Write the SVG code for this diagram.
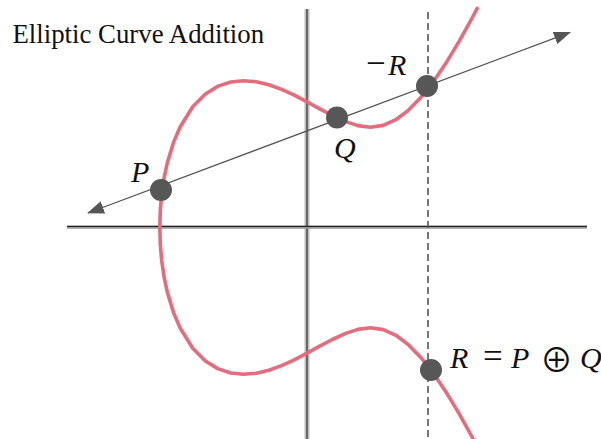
<svg xmlns="http://www.w3.org/2000/svg" width="601" height="439" viewBox="0 0 601 439">
<defs>
<style>
.title{font-family:"Liberation Serif","Times New Roman",serif;font-size:26.8px;fill:#111}
.math{font-family:"Liberation Serif","DejaVu Serif",serif;font-style:italic;font-size:30px;fill:#111}
.op{font-family:"Liberation Serif","DejaVu Serif",serif;font-size:35px;fill:#111}
.oplus{font-family:"Noto Sans CJK JP","DejaVu Sans",sans-serif;font-size:33px;fill:#111}
.dot{fill:#575757}
.curve{fill:none;stroke:#e46c7c;stroke-width:3.6;stroke-linejoin:round;stroke-linecap:round}
.secant{stroke:#555;stroke-width:1.3;fill:none}
</style>
<filter id="soft" x="-5%" y="-5%" width="110%" height="110%"><feGaussianBlur stdDeviation="0.6"/></filter>
<marker id="arr" viewBox="0 0 17 13" markerWidth="17" markerHeight="13" refX="16" refY="6.5" orient="auto-start-reverse" markerUnits="userSpaceOnUse">
<path d="M0,0 L17,6.5 L0,13 z" fill="#555"/>
</marker>
</defs>
<rect width="601" height="439" fill="#fff"/>
<text class="title" x="12.5" y="43">Elliptic Curve Addition</text>
<g id="axes">
<line x1="307" y1="9" x2="307" y2="439" stroke="#bdbdbd" stroke-width="5"/>
<line x1="307" y1="9" x2="307" y2="439" stroke="#6a6a6a" stroke-width="2"/>
<line x1="67" y1="227.2" x2="587" y2="227.2" stroke="#9a9a9a" stroke-width="3"/>
<line x1="67" y1="226.4" x2="587" y2="226.4" stroke="#222" stroke-width="1.4"/>
<line x1="428" y1="12" x2="428" y2="439" stroke="#555" stroke-width="1.6" stroke-dasharray="7 4"/>
</g>
<g id="curve" filter="url(#soft)">
<polyline class="curve" points="477.2,446.6 472.1,437.0 459.4,414.1 446.7,393.1 434,374.3 421.3,358.0 408.6,344.9 395.9,335.3 383.2,329.6 370.5,327.8 357.8,329.4 345.1,333.6 332.4,339.5 319.7,346.2 307,353.2 294.3,359.8 281.6,365.6 268.9,370.2 256.2,373.2 243.5,374.3 230.8,373.0 218.1,368.9 205.4,361.0 192.7,348.2 180,327.8 173.65,312.9 167.3,292.1 164.1,277.2 161.6,259.7 160.3,244.75 159.8,227.5 160.3,210.25 161.6,195.3 164.1,177.8 167.3,162.9 173.65,142.1 180,127.2 192.7,106.8 205.4,94.0 218.1,86.1 230.8,82.0 243.5,80.7 256.2,81.8 268.9,84.8 281.6,89.4 294.3,95.2 307,101.8 319.7,108.8 332.4,115.5 345.1,121.4 357.8,125.6 370.5,127.2 383.2,125.4 395.9,119.7 408.6,110.1 421.3,97.0 434,80.7 446.7,61.9 459.4,40.9 472.1,18.0 477.2,8.4"/>
</g>
<g id="connectors">
<line class="secant" x1="88" y1="213" x2="570" y2="32.4" marker-start="url(#arr)" marker-end="url(#arr)"/>
</g>
<g id="node-P">
<circle class="dot" cx="161" cy="190" r="11"/>
<text class="math" x="131" y="182">P</text>
</g>
<g id="node-Q">
<circle class="dot" cx="337" cy="117.5" r="11"/>
<text class="math" x="334" y="158">Q</text>
</g>
<g id="node-negR">
<circle class="dot" cx="427" cy="86" r="11"/>
<text class="op" x="366" y="75">−</text>
<text class="math" x="388" y="75">R</text>
</g>
<g id="node-R">
<circle class="dot" cx="431" cy="370" r="11"/>
<text class="math" x="450" y="368">R</text>
<text class="op" x="483" y="368">=</text>
<text class="math" x="511" y="368">P</text>
<text class="oplus" x="540" y="371.5">⊕</text>
<text class="math" x="580" y="368">Q</text>
</g>
</svg>
